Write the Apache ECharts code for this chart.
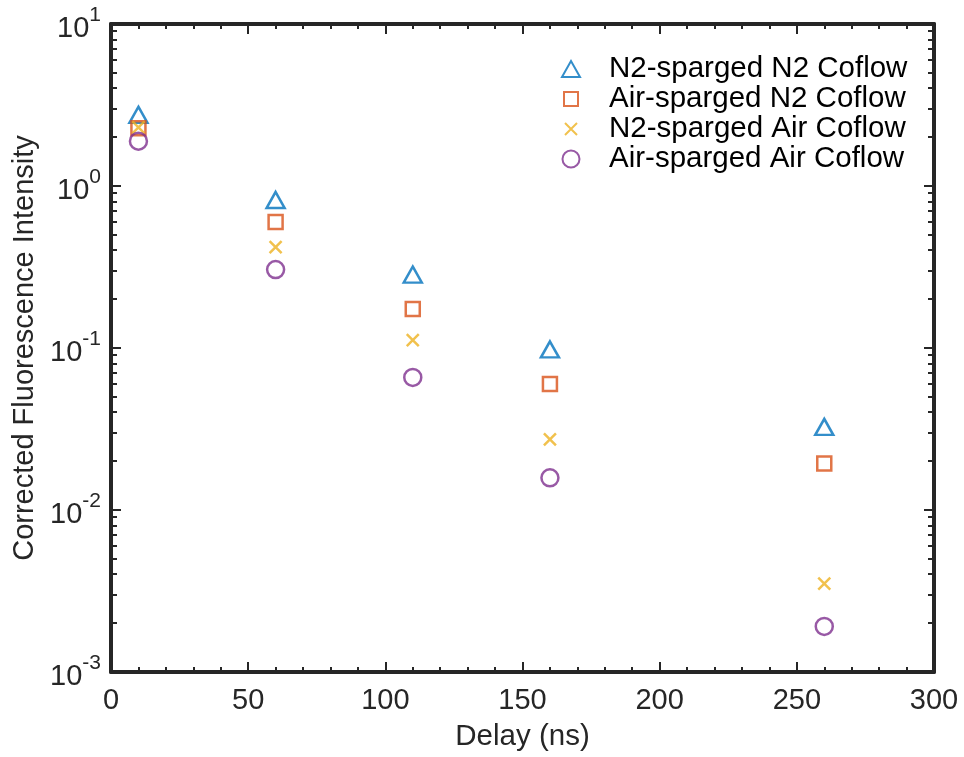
<!DOCTYPE html>
<html>
<head>
<meta charset="utf-8">
<script src="https://cdn.jsdelivr.net/npm/echarts@6/dist/echarts.min.js"></script>
<style>
  html, body { margin: 0; padding: 0; background: #fff; }
  #chart { width: 964px; height: 757px; }
</style>
</head>
<body>
<div id="chart"></div>
<script>
// Delay values (ns)
const delays = [10, 60, 110, 160, 260];

// Corrected fluorescence intensity per case
const n2SpargedN2Coflow   = [2.75, 0.82, 0.284, 0.098, 0.0326];
const airSpargedN2Coflow  = [2.27, 0.60, 0.174, 0.060, 0.0194];
const n2SpargedAirCoflow  = [2.30, 0.42, 0.112, 0.0273, 0.00351];
const airSpargedAirCoflow = [1.89, 0.305, 0.0658, 0.0158, 0.00191];

const seriesNames = [
  'N2-sparged N2 Coflow',
  'Air-sparged N2 Coflow',
  'N2-sparged Air Coflow',
  'Air-sparged Air Coflow'
];

const xTicks = [0, 50, 100, 150, 200, 250, 300];
const yDecades = [0.001, 0.01, 0.1, 1, 10];

const AXIS = '#262626';
const FONT = '"Liberation Sans", Arial, Helvetica, sans-serif';
const COLORS = ['#0072BD', '#D95319', '#EDB120', '#7E2F8E'];

// marker outlines; the leading moves pad every glyph to a common 18x18 box for the legend
const MARK = {
  tri:   'path://M0,0M18,18M0,17L9,1L18,17Z',
  sq:    'path://M0,0M18,18M2,2L16,2L16,16L2,16Z',
  cross: 'path://M0,0M18,18M3,3L15,15M15,3L3,15',
  circ:  'path://M0,0M18,18M9,0.5A8.5,8.5,0,1,1,8.99,0.5Z'
};

// minor ticks of the log axis: 2..9 times each decade
const yMinor = [];
for (let e = -3; e <= 0; e++) {
  for (let m = 2; m <= 9; m++) yMinor.push(+(m * Math.pow(10, e)).toPrecision(3));
}

const pair = (ys) => delays.map((x, i) => [x, ys[i]]);

const chart = echarts.init(document.getElementById('chart'), null, { renderer: 'canvas' });

const lineStyle = { color: AXIS, width: 4 };
const tickStyle = { color: AXIS, width: 2 };

const baseX = {
  type: 'value', min: xTicks[0], max: xTicks[xTicks.length - 1], interval: 50,
  axisLine: { show: true, onZero: false, lineStyle: lineStyle },
  axisTick: { show: true, inside: true, length: 10, lineStyle: tickStyle },
  minorTick: { show: true, splitNumber: 5, length: 5, lineStyle: tickStyle },
  splitLine: { show: false }
};

const baseY = {
  type: 'log', logBase: 10, min: yDecades[0], max: yDecades[yDecades.length - 1],
  axisLine: { show: true, onZero: false, lineStyle: lineStyle },
  axisTick: { show: true, inside: true, length: 10, lineStyle: tickStyle },
  splitLine: { show: false }
};

const hollow = (color) => ({ color: 'rgba(0,0,0,0)', borderColor: color, borderWidth: 2.5 });

const option = {
  animation: false,
  backgroundColor: '#fff',
  grid: { left: 111, right: 30, top: 24, bottom: 84, containLabel: false },
  xAxis: [
    Object.assign({}, baseX, {
      position: 'bottom',
      name: 'Delay (ns)', nameLocation: 'middle', nameGap: 50,
      nameTextStyle: { color: AXIS, fontSize: 29.5, fontFamily: FONT },
      axisLabel: { color: AXIS, fontSize: 29, fontFamily: FONT, margin: 14 }
    }),
    Object.assign({}, baseX, { position: 'top', axisLabel: { show: false } })
  ],
  yAxis: [
    Object.assign({}, baseY, {
      position: 'left',
      name: 'Corrected Fluorescence Intensity', nameLocation: 'middle', nameGap: 61,
      nameRotate: 90,
      nameTextStyle: { color: AXIS, fontSize: 29, fontFamily: FONT },
      axisLabel: {
        margin: 10,
        formatter: (v) => '{b|10}{s|' + Math.round(Math.log10(v)) + '}',
        rich: {
          b: { color: AXIS, fontSize: 29, fontFamily: FONT, lineHeight: 38, verticalAlign: 'bottom' },
          s: { color: AXIS, fontSize: 21, fontFamily: FONT, lineHeight: 16, verticalAlign: 'top' }
        }
      }
    }),
    Object.assign({}, baseY, { position: 'right', axisLabel: { show: false } })
  ],
  legend: {
    orient: 'vertical',
    left: 556, top: 49,
    itemWidth: 18, itemHeight: 18, itemGap: 0,
    selectedMode: false,
    textStyle: { color: '#000', fontSize: 29.5, fontFamily: FONT, padding: [0, 0, 0, 24] },
    data: [
      { name: seriesNames[0], icon: MARK.tri },
      { name: seriesNames[1], icon: MARK.sq },
      { name: seriesNames[2], icon: MARK.cross },
      { name: seriesNames[3], icon: MARK.circ }
    ]
  },
  series: [
    {
      name: seriesNames[0], type: 'scatter', data: pair(n2SpargedN2Coflow),
      symbol: 'triangle', symbolSize: [18, 16], itemStyle: hollow(COLORS[0])
    },
    {
      name: seriesNames[1], type: 'scatter', data: pair(airSpargedN2Coflow),
      symbol: 'rect', symbolSize: 14, itemStyle: hollow(COLORS[1])
    },
    {
      name: seriesNames[2], type: 'scatter', data: pair(n2SpargedAirCoflow),
      symbol: 'path://M0,0L10,10M10,0L0,10', symbolSize: 12, itemStyle: hollow(COLORS[2])
    },
    {
      name: seriesNames[3], type: 'scatter', data: pair(airSpargedAirCoflow),
      symbol: 'circle', symbolSize: 17, itemStyle: hollow(COLORS[3])
    }
  ]
};

chart.setOption(option);

// Log-spaced minor ticks on both vertical edges, placed through the axis scale
const xl = chart.convertToPixel({ xAxisIndex: 0 }, xTicks[0]);
const xr = chart.convertToPixel({ xAxisIndex: 0 }, xTicks[xTicks.length - 1]);
const minorTicks = [];
yMinor.forEach((v) => {
  const y = Math.round(chart.convertToPixel({ yAxisIndex: 0 }, v));
  minorTicks.push({ type: 'line', silent: true, z: 5,
    shape: { x1: xl, y1: y, x2: xl + 6, y2: y }, style: { stroke: AXIS, lineWidth: 2 } });
  minorTicks.push({ type: 'line', silent: true, z: 5,
    shape: { x1: xr - 6, y1: y, x2: xr, y2: y }, style: { stroke: AXIS, lineWidth: 2 } });
});
chart.setOption({ graphic: minorTicks });
</script>
</body>
</html>
